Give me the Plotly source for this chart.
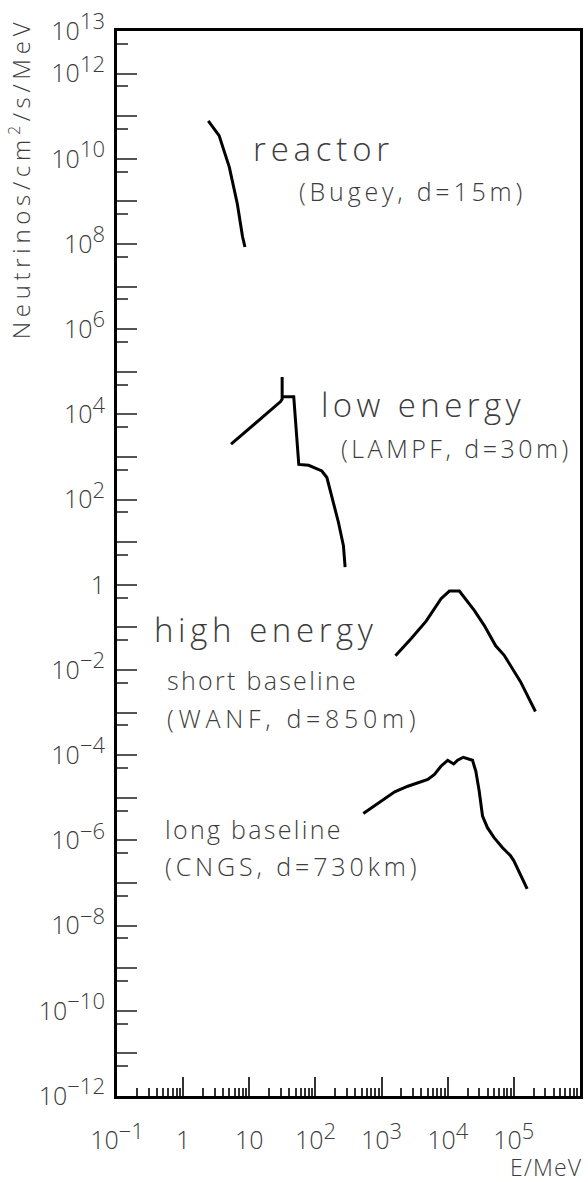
import plotly.graph_objects as go

# ---------------- data ----------------
reactor_E = [2.4, 3.5, 5.0, 6.6, 7.9, 8.6]
reactor_flux = [7.8e10, 3.5e10, 6.3e9, 8.7e8, 1.5e8, 8.5e7]

lampf_E = [5.3, 29.7, 31.4, 31.4, 31.4, 47, 56, 79, 125, 149, 177, 223, 265, 281]
lampf_flux = [2.0e3, 2.0e4, 2.3e4, 7.5e4, 2.6e4, 2.6e4, 670, 640, 470, 330, 123, 29, 8.3, 2.6]

wanf_E = [1620, 2810, 4720, 7930, 10600, 15000, 25200, 35600, 53100, 71000, 126000, 212000]
wanf_flux = [0.0216, 0.0547, 0.140, 0.471, 0.713, 0.713, 0.252, 0.112, 0.037, 0.0224, 0.00533, 0.00106]

cngs_E = [530, 1580, 2500, 5000, 6300, 7900, 10000, 12300, 14100, 17200, 23700, 26600,
          29900, 33600, 39900, 50200, 67000, 89100, 100000, 159000]
cngs_flux = [4.3e-6, 1.38e-5, 1.87e-5, 2.69e-5, 3.52e-5, 5.51e-5, 7.6e-5, 6.22e-5, 7.6e-5,
             8.93e-5, 7.6e-5, 4.21e-5, 1.44e-5, 3.73e-6, 1.99e-6, 1.16e-6, 6.79e-7,
             4.35e-7, 3.32e-7, 7.24e-8]

x_decades = [-1, 0, 1, 2, 3, 4, 5, 6]
x_exponents = ["−1", "", "", "2", "3", "4", "5", None]
y_decades = list(range(-12, 14))

# ---------------- style ----------------
W, H = 588, 1182
ML, MR, MT, MB = 117, 5, 27, 86
TXT = "#3c3c3c"
FONT = "Open Sans"
SUP = 22


def sup(s, size=SUP):
    return f"<sup><span style='font-size:{size}px'>{s}</span></sup>"


def ylabel(n):
    if n == 0:
        return "1"
    if n % 2 == 0 or n == 13:
        return "10" + sup(str(n).replace("-", "−"))
    return ""


def xlabel(d, e):
    if e is None:
        return ""
    if d == 0:
        return "1"
    if d == 1:
        return "10"
    return "10" + sup(e)


x_tickvals = [10.0 ** d for d in x_decades]
x_ticktext = [xlabel(d, e) for d, e in zip(x_decades, x_exponents)]
y_tickvals = [10.0 ** n for n in y_decades]
y_ticktext = [ylabel(n) for n in y_decades]
x_minor = [k * 10.0 ** d for d in range(-1, 6) for k in range(2, 10)]
y_minor = [5 * 10.0 ** n for n in range(-13, 13)]

fig = go.Figure()
for xs, ys in [(reactor_E, reactor_flux), (lampf_E, lampf_flux),
               (wanf_E, wanf_flux), (cngs_E, cngs_flux)]:
    fig.add_trace(go.Scatter(x=xs, y=ys, mode="lines",
                             line=dict(color="black", width=3),
                             showlegend=False, hoverinfo="skip"))

pw = W - ML - MR
ph = H - MT - MB


def px(x):
    return (x - ML) / pw


def py(y):
    return (H - MB - y) / ph


def spaced(text, ls):
    return f"<span style='letter-spacing:{ls}px'>{text}</span>"


labels = [
    ("reactor", 252, 145, 33, 4.8),
    ("(Bugey, d=15m)", 298, 188, 25, 3.8),
    ("low energy", 320, 402, 33, 4.4),
    ("(LAMPF, d=30m)", 340, 446, 25, 3.5),
    ("high energy", 152, 628, 33, 4.6),
    ("short baseline", 165, 678, 25, 2.3),
    ("(WANF, d=850m)", 165, 717, 25, 4.7),
    ("long baseline", 163, 828, 25, 2.3),
    ("(CNGS, d=730km)", 163, 865, 25, 3.9),
]
for text, x0, yc, size, ls in labels:
    fig.add_annotation(text=spaced(text, ls), x=px(x0), y=py(yc), xref="paper", yref="paper",
                       xanchor="left", yanchor="middle", showarrow=False,
                       font=dict(family=FONT, size=size, color=TXT, weight=300))

# y-axis title
fig.add_annotation(text=spaced("Neutrinos/cm" + sup("2", 16) + "/s/MeV", 4.7),
                   x=px(19), y=py(12), xref="paper", yref="paper",
                   xanchor="center", yanchor="top", textangle=-90, showarrow=False,
                   font=dict(family=FONT, size=24, color=TXT, weight=300))
# x-axis title
fig.add_annotation(text=spaced("E/MeV", 1.2), x=px(587), y=py(1167), xref="paper", yref="paper",
                   xanchor="right", yanchor="middle", showarrow=False,
                   font=dict(family=FONT, size=23, color=TXT, weight=300))

fig.update_xaxes(type="log", range=[-1, 6], showgrid=False, zeroline=False,
                 showline=True, linewidth=3, linecolor="black", mirror=True,
                 ticks="inside", ticklen=19, tickwidth=1.5, tickcolor="#333",
                 tickmode="array", tickvals=x_tickvals, ticktext=x_ticktext,
                 tickfont=dict(family=FONT, size=25, color=TXT, weight=300),
                 ticklabelstandoff=20, ticklabeloverflow="allow",
                 minor=dict(tickmode="array", tickvals=x_minor, ticks="inside",
                            ticklen=8, tickwidth=1.5, tickcolor="#333", showgrid=False))
fig.update_yaxes(type="log", range=[-12, 13], showgrid=False, zeroline=False,
                 showline=True, linewidth=3, linecolor="black", mirror=True,
                 ticks="inside", ticklen=20, tickwidth=1.5, tickcolor="#555",
                 tickmode="array", tickvals=y_tickvals, ticktext=y_ticktext,
                 tickfont=dict(family=FONT, size=25, color=TXT, weight=300),
                 ticklabelstandoff=4, ticklabeloverflow="allow",
                 minor=dict(tickmode="array", tickvals=y_minor, ticks="inside",
                            ticklen=11, tickwidth=1.5, tickcolor="#555", showgrid=False))

fig.update_layout(width=W, height=H, margin=dict(l=ML, r=MR, t=MT, b=MB),
                  paper_bgcolor="white", plot_bgcolor="white")

fig.write_html("out.html")
